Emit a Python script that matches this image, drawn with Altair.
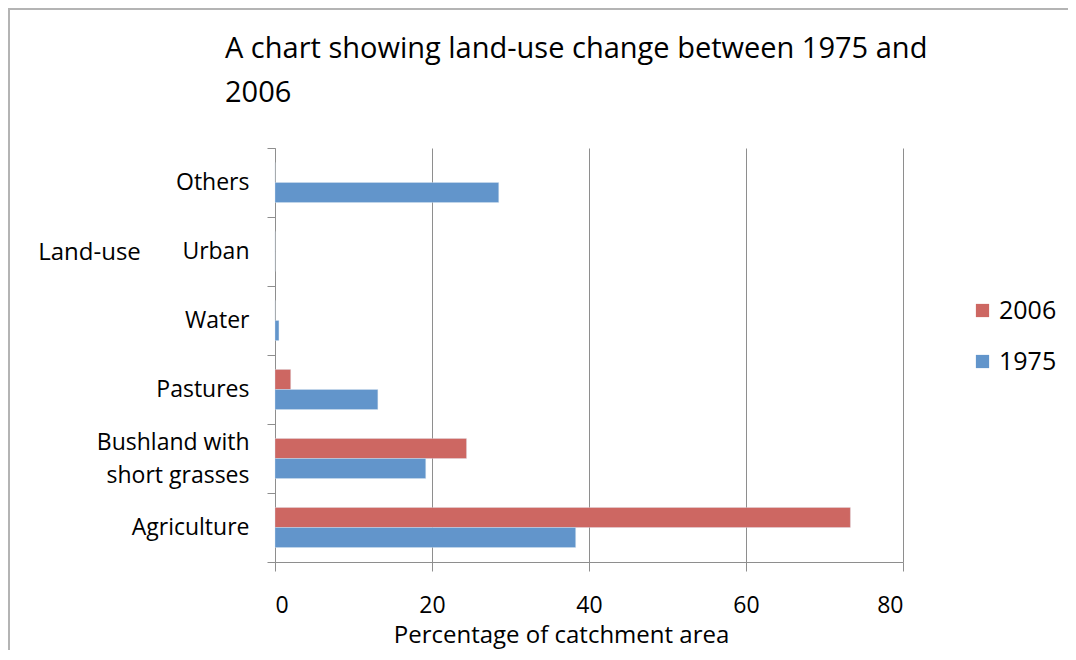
import altair as alt
import pandas as pd

title_lines = ["A chart showing land-use change between 1975 and", "2006"]
categories = ["Agriculture", "Bushland with short grasses", "Pastures", "Water", "Urban", "Others"]
values_2006 = [73.3, 24.4, 2.0, 0.0, 0.0, 0.0]
values_1975 = [38.3, 19.2, 13.1, 0.5, 0.0, 28.5]
series = ["2006", "1975"]
x_ticks = [0, 20, 40, 60, 80]

rows = []
for c, v in zip(categories, values_2006):
    rows.append({"Land-use": c, "Year": "2006", "Value": v})
for c, v in zip(categories, values_1975):
    rows.append({"Land-use": c, "Year": "1975", "Value": v})
df = pd.DataFrame(rows)

FONT = "Open Sans"
GRAY = "#8e8e8e"
LBL = 23

y_order = list(reversed(categories))

bars = alt.Chart(df).mark_bar(stroke="#dde6f0", strokeWidth=0.6, strokeOpacity=0.6).encode(
    x=alt.X("Value:Q",
            scale=alt.Scale(domain=[0, 80], nice=False),
            axis=alt.Axis(values=x_ticks, title="Percentage of catchment area",
                          grid=True, gridColor=GRAY, gridWidth=1,
                          domainColor=GRAY, tickColor=GRAY, tickSize=9,
                          labelPadding=23, labelFontSize=LBL, labelColor="#000",
                          titleFontSize=24, titleFontWeight="normal", titleColor="#000",
                          titleX=286, titleY=73, titleBaseline="middle", titleAlign="center")),
    y=alt.Y("Land-use:N", sort=y_order,
            scale=alt.Scale(padding=0),
            axis=alt.Axis(title="Land-use", titleAngle=0, titleX=-186, titleY=104,
                          titleAlign="center", titleBaseline="middle",
                          titleFontSize=LBL + 1, titleFontWeight="normal", titleColor="#000",
                          tickBand="extent", tickSize=8, tickColor=GRAY, domainColor=GRAY,
                          labelFontSize=LBL, labelColor="#000", labelPadding=18,
                          labelLineHeight=33, labelLimit=300,
                          labelOffset={"condition": {"test": "datum.label == 'Bushland with short grasses'", "value": -16},
                                       "value": 0},
                          labelExpr="datum.label == 'Bushland with short grasses' ? ['Bushland with', 'short grasses'] : datum.label")),
    yOffset=alt.YOffset("Year:N", sort=series,
                        scale=alt.Scale(paddingInner=0, paddingOuter=0.72)),
    color=alt.Color("Year:N",
                    scale=alt.Scale(domain=series, range=["#CD6762", "#6295CB"]),
                    legend=alt.Legend(title=None, orient="none", legendX=695, legendY=150,
                                      symbolType="square", symbolSize=175, symbolStrokeWidth=0,
                                      labelFontSize=LBL + 2, labelColor="#000", rowPadding=25,
                                      labelOffset=4)),
)

frame_data = alt.Data(values=[{}])
left_line = alt.Chart(frame_data).mark_rule(color="#b4b4b4", strokeWidth=2).encode(
    x=alt.value(-266), y=alt.value(-140), y2=alt.value(520))
top_line = alt.Chart(frame_data).mark_rule(color="#b4b4b4", strokeWidth=2).encode(
    x=alt.value(-267), x2=alt.value(800), y=alt.value(-139))

title_text = alt.Chart(frame_data).mark_text(
    text=title_lines, align="left", baseline="alphabetic", fontSize=29,
    lineHeight=44, color="#000", font=FONT,
).encode(x=alt.value(-50), y=alt.value(-90))

chart = alt.layer(bars, left_line, top_line, title_text).properties(
    width=628, height=414,
    autosize="none",
    padding={"left": 267, "top": 140, "right": 165, "bottom": 88},
).configure(font=FONT).configure_view(stroke=None)

chart.save("out.html", embed_options={"renderer": "svg", "actions": False})
